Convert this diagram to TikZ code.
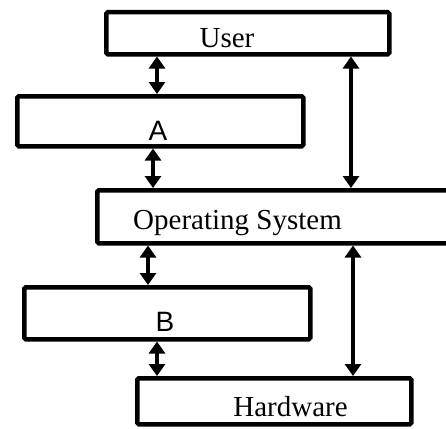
\documentclass[tikz,border=0pt]{standalone}
\usepackage{fontspec}
\setmainfont{Liberation Serif}
\newfontfamily\arialfont{Liberation Sans}
\usetikzlibrary{arrows.meta}
\begin{document}
\begin{tikzpicture}[x=1pt,y=-1pt,
  box/.style={draw=black,line width=4.5pt,rounded corners=1.5pt,fill=white,inner sep=0pt,anchor=north west},
  lbl/.style={inner sep=0pt,anchor=base,font=\fontsize{29}{30}\selectfont},
  slbl/.style={inner sep=0pt,anchor=base,font=\arialfont\fontsize{28}{29}\selectfont},
  arr/.style={line width=4.2pt,{Triangle[width=16pt,length=12pt]}-{Triangle[width=16pt,length=12pt]}}]
\useasboundingbox (0,0) rectangle (446,428);
\clip (0,0) rectangle (446,428);
\fill[white] (0,0) rectangle (446,428);
% boxes
\node[box,minimum width=283pt,minimum height=42pt] (user) at (104,10) {};
\node[box,minimum width=286pt,minimum height=50pt] (a) at (15,94) {};
\node[box,minimum width=380pt,minimum height=53pt] (os) at (95,188) {};
\node[box,minimum width=286pt,minimum height=52pt] (b) at (22,285) {};
\node[box,minimum width=274pt,minimum height=46pt] (hw) at (135,376) {};
% texts
\node[lbl] (usert) at (227,48) {User};
\node[slbl] (at) at (158,140) {A};
\node[lbl] (ost) at (237.5,229) {Operating System};
\node[slbl] (bt) at (165,331) {B};
\node[lbl] (hwt) at (290.5,416) {Hardware};
% connectors
\draw[arr] (157,0 |- user.south) -- (157,0 |- a.north);
\draw[arr] (153,0 |- a.south) -- (153,0 |- os.north);
\draw[arr] (148,0 |- os.south) -- (148,0 |- b.north);
\draw[arr] (157,0 |- b.south) -- (157,0 |- hw.north);
\draw[arr] (351,0 |- user.south) -- (351,0 |- os.north);
\draw[arr] (353,0 |- os.south) -- (353,0 |- hw.north);
\end{tikzpicture}
\end{document}
